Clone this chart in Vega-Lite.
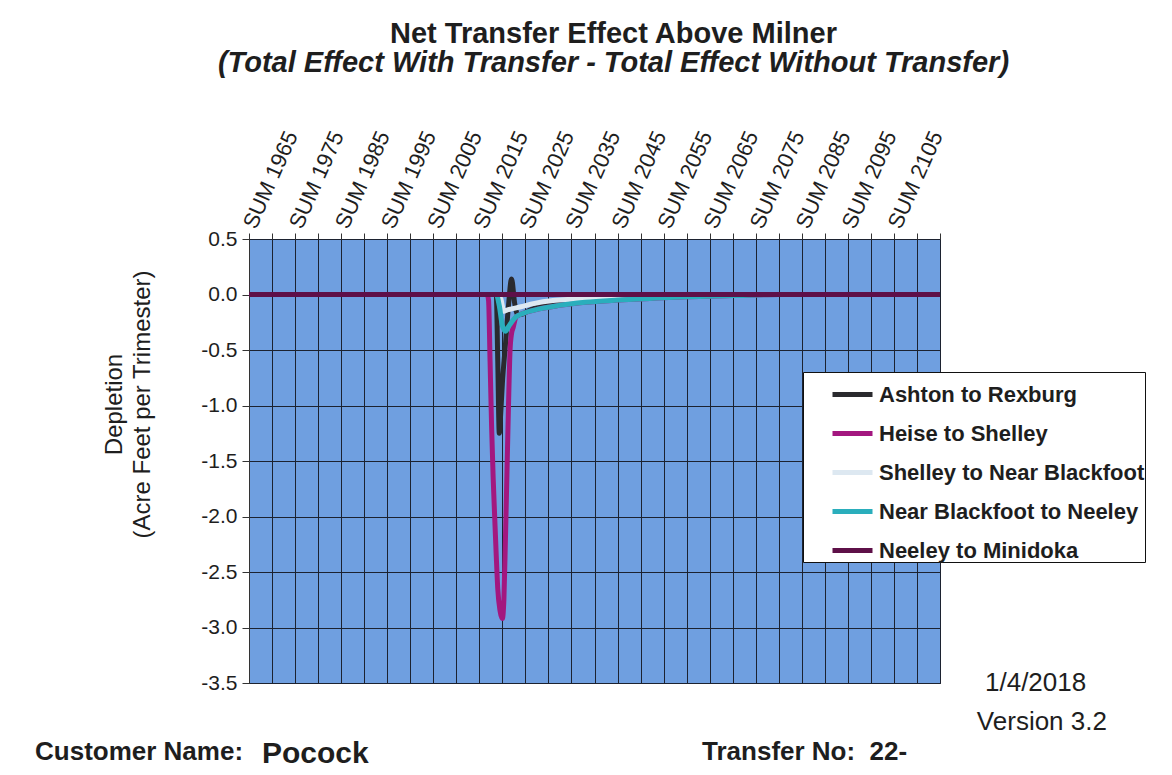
{
  "$schema": "https://vega.github.io/schema/vega-lite/v6.json",
  "width": 691,
  "height": 444,
  "autosize": {"type": "none"},
  "padding": {"left": 249, "top": 239, "right": 232, "bottom": 92},
  "background": "white",
  "config": {
    "font": "Liberation Sans",
    "view": {"fill": "#6f9fe0", "stroke": "#1c2230"}
  },
  "title": {
    "text": "Net Transfer Effect Above Milner",
    "subtitle": "(Total Effect With Transfer - Total Effect Without Transfer)",
    "font": "Liberation Sans",
    "fontSize": 29,
    "fontWeight": "bold",
    "color": "#1e1e1e",
    "subtitleFont": "Liberation Sans",
    "subtitleFontSize": 29,
    "subtitleFontWeight": "bold",
    "subtitleFontStyle": "italic",
    "subtitleColor": "#1e1e1e",
    "subtitlePadding": 0,
    "anchor": "middle",
    "dx": 19,
    "offset": 50
  },
  "datasets": {
    "series": [
      {"s": "Ashton to Rexburg", "t": 1965, "v": 0},
      {"s": "Ashton to Rexburg", "t": 2018.67, "v": 0},
      {"s": "Ashton to Rexburg", "t": 2019.0, "v": -0.6},
      {"s": "Ashton to Rexburg", "t": 2019.33, "v": -1.25},
      {"s": "Ashton to Rexburg", "t": 2019.67, "v": -1.05},
      {"s": "Ashton to Rexburg", "t": 2020.0, "v": -0.8},
      {"s": "Ashton to Rexburg", "t": 2020.67, "v": -0.45},
      {"s": "Ashton to Rexburg", "t": 2021.33, "v": -0.1},
      {"s": "Ashton to Rexburg", "t": 2022.0, "v": 0.14},
      {"s": "Ashton to Rexburg", "t": 2022.67, "v": -0.08},
      {"s": "Ashton to Rexburg", "t": 2023.33, "v": -0.18},
      {"s": "Ashton to Rexburg", "t": 2024.0, "v": -0.18},
      {"s": "Ashton to Rexburg", "t": 2026, "v": -0.14},
      {"s": "Ashton to Rexburg", "t": 2029, "v": -0.1},
      {"s": "Ashton to Rexburg", "t": 2033, "v": -0.06},
      {"s": "Ashton to Rexburg", "t": 2040, "v": -0.03},
      {"s": "Ashton to Rexburg", "t": 2048, "v": -0.01},
      {"s": "Ashton to Rexburg", "t": 2055, "v": 0},
      {"s": "Ashton to Rexburg", "t": 2115, "v": 0},
      {"s": "Heise to Shelley", "t": 1965, "v": 0},
      {"s": "Heise to Shelley", "t": 2016.67, "v": 0},
      {"s": "Heise to Shelley", "t": 2017.0, "v": -0.05},
      {"s": "Heise to Shelley", "t": 2017.33, "v": -0.6},
      {"s": "Heise to Shelley", "t": 2017.67, "v": -1.2},
      {"s": "Heise to Shelley", "t": 2018.0, "v": -1.65},
      {"s": "Heise to Shelley", "t": 2018.33, "v": -2.0},
      {"s": "Heise to Shelley", "t": 2018.67, "v": -2.35},
      {"s": "Heise to Shelley", "t": 2019.0, "v": -2.65},
      {"s": "Heise to Shelley", "t": 2019.5, "v": -2.85},
      {"s": "Heise to Shelley", "t": 2020.0, "v": -2.92},
      {"s": "Heise to Shelley", "t": 2020.33, "v": -2.75},
      {"s": "Heise to Shelley", "t": 2020.67, "v": -2.2},
      {"s": "Heise to Shelley", "t": 2021.0, "v": -1.6},
      {"s": "Heise to Shelley", "t": 2021.33, "v": -1.0},
      {"s": "Heise to Shelley", "t": 2021.67, "v": -0.5},
      {"s": "Heise to Shelley", "t": 2022.0, "v": -0.35},
      {"s": "Heise to Shelley", "t": 2022.33, "v": -0.3},
      {"s": "Heise to Shelley", "t": 2023, "v": -0.2},
      {"s": "Heise to Shelley", "t": 2024.5, "v": -0.17},
      {"s": "Heise to Shelley", "t": 2028, "v": -0.13},
      {"s": "Heise to Shelley", "t": 2032, "v": -0.1},
      {"s": "Heise to Shelley", "t": 2038, "v": -0.07},
      {"s": "Heise to Shelley", "t": 2045, "v": -0.05},
      {"s": "Heise to Shelley", "t": 2052, "v": -0.035},
      {"s": "Heise to Shelley", "t": 2060, "v": -0.02},
      {"s": "Heise to Shelley", "t": 2070, "v": -0.01},
      {"s": "Heise to Shelley", "t": 2080, "v": 0},
      {"s": "Heise to Shelley", "t": 2115, "v": 0},
      {"s": "Shelley to Near Blackfoot", "t": 1965, "v": 0},
      {"s": "Shelley to Near Blackfoot", "t": 2019.0, "v": 0},
      {"s": "Shelley to Near Blackfoot", "t": 2019.67, "v": -0.04},
      {"s": "Shelley to Near Blackfoot", "t": 2020.33, "v": -0.15},
      {"s": "Shelley to Near Blackfoot", "t": 2021.0, "v": -0.14},
      {"s": "Shelley to Near Blackfoot", "t": 2022, "v": -0.13},
      {"s": "Shelley to Near Blackfoot", "t": 2024, "v": -0.11},
      {"s": "Shelley to Near Blackfoot", "t": 2027, "v": -0.08},
      {"s": "Shelley to Near Blackfoot", "t": 2031, "v": -0.055},
      {"s": "Shelley to Near Blackfoot", "t": 2036, "v": -0.04},
      {"s": "Shelley to Near Blackfoot", "t": 2042, "v": -0.02},
      {"s": "Shelley to Near Blackfoot", "t": 2050, "v": 0},
      {"s": "Shelley to Near Blackfoot", "t": 2115, "v": 0},
      {"s": "Near Blackfoot to Neeley", "t": 1965, "v": 0},
      {"s": "Near Blackfoot to Neeley", "t": 2018.67, "v": 0},
      {"s": "Near Blackfoot to Neeley", "t": 2019.33, "v": -0.1},
      {"s": "Near Blackfoot to Neeley", "t": 2020.0, "v": -0.28},
      {"s": "Near Blackfoot to Neeley", "t": 2020.67, "v": -0.33},
      {"s": "Near Blackfoot to Neeley", "t": 2021.33, "v": -0.29},
      {"s": "Near Blackfoot to Neeley", "t": 2022, "v": -0.25},
      {"s": "Near Blackfoot to Neeley", "t": 2023, "v": -0.2},
      {"s": "Near Blackfoot to Neeley", "t": 2024.5, "v": -0.17},
      {"s": "Near Blackfoot to Neeley", "t": 2028, "v": -0.13},
      {"s": "Near Blackfoot to Neeley", "t": 2032, "v": -0.1},
      {"s": "Near Blackfoot to Neeley", "t": 2038, "v": -0.07},
      {"s": "Near Blackfoot to Neeley", "t": 2045, "v": -0.05},
      {"s": "Near Blackfoot to Neeley", "t": 2052, "v": -0.035},
      {"s": "Near Blackfoot to Neeley", "t": 2060, "v": -0.02},
      {"s": "Near Blackfoot to Neeley", "t": 2070, "v": -0.01},
      {"s": "Near Blackfoot to Neeley", "t": 2080, "v": 0},
      {"s": "Near Blackfoot to Neeley", "t": 2115, "v": 0},
      {"s": "Neeley to Minidoka", "t": 1965, "v": 0},
      {"s": "Neeley to Minidoka", "t": 2115, "v": 0}
    ],
    "boldNotes": [
      {"label": "Customer Name:", "t": 1918.55, "v": -4.194},
      {"label": "Transfer No:\u00a0 22-", "t": 2063.34, "v": -4.194}
    ],
    "bigNotes": [
      {"label": "Pocock", "t": 1967.82, "v": -4.22}
    ],
    "plainNotes": [
      {"label": "1/4/2018", "t": 2124.77, "v": -3.576},
      {"label": "Version 3.2", "t": 2123.0, "v": -3.923}
    ]
  },
  "layer": [
    {
      "data": {"name": "series"},
      "mark": {"type": "line", "interpolate": "monotone", "strokeWidth": 5, "clip": true},
      "encoding": {
        "x": {
          "field": "t",
          "type": "quantitative",
          "scale": {"domain": [1965, 2115], "nice": false, "zero": false},
          "axis": {
            "orient": "top",
            "title": null,
            "values": [1965, 1970, 1975, 1980, 1985, 1990, 1995, 2000, 2005, 2010, 2015, 2020, 2025, 2030, 2035, 2040, 2045, 2050, 2055, 2060, 2065, 2070, 2075, 2080, 2085, 2090, 2095, 2100, 2105, 2110, 2115],
            "tickCount": 40,
            "labelExpr": "datum.value % 10 == 5 && datum.value < 2110 ? 'SUM ' + datum.value : ''",
            "labelAngle": -66,
            "labelAlign": "left",
            "labelBaseline": "middle",
            "labelFontSize": 22,
            "labelColor": "#1e1e1e",
            "labelPadding": 6,
            "labelOverlap": false,
            "grid": true,
            "gridColor": "#1c2230",
            "tickSize": 6,
            "tickColor": "#333333",
            "domain": false
          }
        },
        "y": {
          "field": "v",
          "type": "quantitative",
          "scale": {"domain": [-3.5, 0.5], "nice": false, "zero": false},
          "axis": {
            "values": [-3.5, -3, -2.5, -2, -1.5, -1, -0.5, 0, 0.5],
            "tickCount": 20,
            "labelExpr": "replace(format(datum.value, '.1f'), '\u2212', '-')",
            "labelFontSize": 21,
            "labelColor": "#1e1e1e",
            "labelPadding": 5,
            "tickSize": 7,
            "tickColor": "#333333",
            "domainColor": "#333333",
            "grid": true,
            "gridColor": "#1c2230",
            "title": ["Depletion", "(Acre Feet per Trimester)"],
            "titleFontSize": 24,
            "titleFontWeight": "normal",
            "titleColor": "#1e1e1e",
            "titleLineHeight": 28,
            "titleX": -123,
            "titleY": 165
          }
        },
        "color": {
          "field": "s",
          "type": "nominal",
          "scale": {
            "domain": ["Ashton to Rexburg", "Heise to Shelley", "Shelley to Near Blackfoot", "Near Blackfoot to Neeley", "Neeley to Minidoka"],
            "range": ["#2a2a2e", "#a3177f", "#dde8f1", "#2aaebc", "#5e1048"]
          },
          "legend": {
            "orient": "none",
            "legendX": 554,
            "legendY": 133,
            "title": null,
            "fillColor": "white",
            "strokeColor": "#111111",
            "padding": 0,
            "symbolType": "stroke",
            "symbolSize": 1600,
            "symbolStrokeWidth": 5,
            "symbolOffset": 27,
            "labelOffset": 4,
            "labelFontSize": 22,
            "labelFontWeight": "bold",
            "labelColor": "#1e1e1e",
            "labelLimit": 400,
            "rowPadding": 5
          }
        }
      }
    },
    {
      "data": {"name": "boldNotes"},
      "mark": {"type": "text", "align": "left", "baseline": "alphabetic", "fontSize": 26, "fontWeight": "bold", "color": "#1e1e1e"},
      "encoding": {
        "x": {"field": "t", "type": "quantitative"},
        "y": {"field": "v", "type": "quantitative"},
        "text": {"field": "label", "type": "nominal"}
      }
    },
    {
      "data": {"name": "bigNotes"},
      "mark": {"type": "text", "align": "left", "baseline": "alphabetic", "fontSize": 30, "fontWeight": "bold", "color": "#1e1e1e"},
      "encoding": {
        "x": {"field": "t", "type": "quantitative"},
        "y": {"field": "v", "type": "quantitative"},
        "text": {"field": "label", "type": "nominal"}
      }
    },
    {
      "data": {"name": "plainNotes"},
      "mark": {"type": "text", "align": "left", "baseline": "alphabetic", "fontSize": 26, "color": "#1e1e1e"},
      "encoding": {
        "x": {"field": "t", "type": "quantitative"},
        "y": {"field": "v", "type": "quantitative"},
        "text": {"field": "label", "type": "nominal"}
      }
    }
  ]
}
